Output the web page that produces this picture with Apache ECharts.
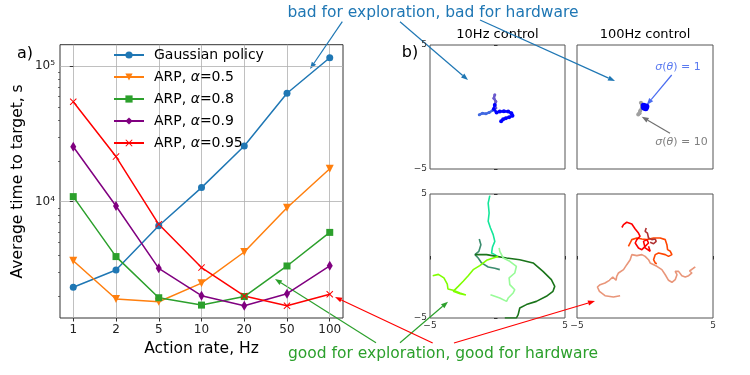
<!DOCTYPE html>
<html>
<head>
<meta charset="utf-8">
<script src="https://cdn.jsdelivr.net/npm/echarts@6/dist/echarts.min.js"></script>
<style>html,body{margin:0;padding:0;background:#fff}#chart{width:750px;height:375px}</style>
</head>
<body>
<div id="chart"></div>
<script>
// panel a) values
const rates = ['1', '2', '5', '10', '20', '50', '100'];
const gaussian = [2340, 3140, 6650, 12700, 25700, 63000, 115000];
const arp05 = [3675, 1920, 1830, 2510, 4260, 9030, 17500];
const arp08 = [10900, 3940, 1960, 1730, 2000, 3360, 5940];
const arp09 = [25400, 9300, 3230, 2030, 1710, 2100, 3370];
const arp095 = [54500, 21500, 6810, 3270, 2020, 1710, 2080];
const yMajor = [1e4, 1e5];
const yMinor = [2000, 3000, 4000, 5000, 6000, 7000, 8000, 9000, 20000, 30000, 40000, 50000, 60000, 70000, 80000, 90000];
const panelTicks = [-5, 5];

// panel b) trajectories (traced by eye)
const blue10 = [[-0.20,0.17],[-0.27,-0.17],[-0.07,-0.44],[0.17,-0.36],[0.47,-0.34],[0.79,-0.36],[1.03,-0.50],[1.11,-0.71],[0.86,-0.82],[0.62,-0.90],[0.42,-0.98],[0.27,-1.14]];
const slate10 = [[-0.20,0.98],[-0.27,0.71],[-0.12,0.44],[-0.22,0.17],[-0.12,-0.09]];
const royal10 = [[-1.35,-0.63],[-1.11,-0.50],[-0.86,-0.55],[-0.62,-0.44],[-0.37,-0.28]];
const grey100 = [[-0.30,0.35],[-0.20,0.10],[-0.35,-0.30],[-0.50,-0.60],[-0.40,-0.50]];
const blue100 = [[-0.10,0.10],[0.10,0.05],[0.05,-0.10],[-0.08,-0.05]];

const spring = [[-0.57,4.87],[-0.69,4.27],[-0.62,3.47],[-0.69,2.80],[-0.52,2.26],[-0.32,1.72],[-0.20,1.18],[-0.37,0.73],[-0.44,0.24],[-0.20,0.11],[-0.02,-0.03]];
const seaGreen = [[-1.35,1.37],[-1.23,0.91],[-1.38,0.38],[-1.67,0.11],[-1.43,-0.16],[-1.18,-0.56],[-0.69,-0.89],[-0.20,-0.99],[0.17,-1.10]];
const darkGreen = [[-1.67,0.11],[-0.81,0.11],[-0.07,-0.03],[0.67,-0.16],[1.65,-0.30],[2.64,-0.56],[3.37,-1.24],[3.99,-1.91],[4.24,-2.45],[4.11,-2.85],[3.62,-3.25],[2.88,-3.66],[2.14,-3.92],[1.65,-4.19],[1.53,-4.73],[1.40,-5.0],[0.54,-5.0]];
const lawnGreen = [[-4.80,-1.59],[-4.38,-1.48],[-3.97,-1.77],[-3.72,-2.26],[-3.67,-2.66],[-3.28,-2.77],[-2.78,-2.98],[-2.34,-3.15],[-2.78,-3.04],[-3.28,-2.85],[-2.91,-2.45],[-2.54,-2.04],[-2.17,-1.59],[-1.80,-1.10],[-1.31,-0.78],[-0.81,-0.35],[-0.32,-0.16],[0.05,-0.03]];
const paleGreen = [[0.12,0.65],[0.17,0.38],[0.42,-0.16],[0.91,-0.43],[1.40,-0.83],[1.28,-1.37],[0.86,-1.77],[0.91,-2.31],[1.28,-2.72],[1.16,-2.98],[0.79,-3.39],[0.67,-3.66],[0.17,-3.39],[-0.52,-3.12]];

const salmon = [[-1.83,-3.20],[-2.32,-3.31],[-2.94,-3.20],[-3.35,-2.85],[-3.50,-2.50],[-3.30,-2.31],[-2.94,-2.18],[-2.62,-1.96],[-2.37,-1.69],[-2.13,-1.96],[-2.08,-1.64],[-1.95,-1.37],[-1.58,-1.10],[-1.34,-0.70],[-1.09,-0.30],[-0.97,0.11],[-0.60,0.03],[-0.23,0.11],[0.01,-0.03],[0.26,-0.30],[0.38,-0.56],[0.87,-0.83],[1.24,-1.10],[1.49,-1.51],[1.73,-1.96],[1.98,-2.12],[2.22,-1.91],[2.35,-1.51],[2.22,-1.24],[2.47,-1.24],[2.71,-1.59],[2.96,-1.69],[3.21,-1.59],[3.45,-1.37],[3.28,-1.21],[3.57,-0.97],[3.70,-0.89]];
const red = [[-1.70,2.30],[-1.58,2.53],[-1.34,2.72],[-0.97,2.58],[-0.72,2.18],[-0.48,1.85],[-0.36,1.59],[-0.60,1.32],[-0.72,1.05],[-0.48,0.65],[-0.23,0.51],[0.01,0.78],[0.26,1.05],[0.14,1.32],[-0.11,1.18],[0.01,0.65],[0.38,0.38],[0.26,0.78]];
const orangeRed = [[-1.22,0.78],[-1.09,1.05],[-0.97,1.32],[-0.60,1.45],[-0.23,1.37],[0.14,1.32],[0.63,1.45],[1.12,1.45],[1.49,1.32],[1.61,0.91],[1.66,0.51],[1.86,0.38],[1.98,0.11],[1.73,-0.03],[1.49,0.11],[1.00,0.24],[0.75,0.11],[0.63,-0.30],[0.75,-0.56],[0.87,-0.62]];
const brown = [[0.09,2.26],[0.01,1.99],[0.18,1.85],[0.26,1.45],[0.50,1.32],[0.75,1.37],[0.82,1.18],[0.63,0.99],[0.38,1.10]];

const FONT = 'DejaVu Sans';
const chart = echarts.init(document.getElementById('chart'), null, { renderer: 'canvas' });

const sup = { '4': '\u2074', '5': '\u2075', '3': '\u00b3' };
function logLabel(v) {
    const e = Math.log10(v);
    if (Math.abs(e - Math.round(e)) > 1e-6) return '';
    return '10' + sup[String(Math.round(e))];
}

function panelAxis(grid, labels) {
    return {
        type: 'value', gridIndex: grid, min: -5, max: 5,
        axisLine: { show: false },
        splitLine: { show: false },
        axisTick: { show: labels, customValues: panelTicks, length: 3.5, lineStyle: { color: '#333' } },
        axisLabel: {
            show: labels, customValues: panelTicks, fontSize: 9, color: '#333', margin: 3, fontFamily: FONT,
            formatter: (v) => (v < 0 ? '\u2212' : '') + Math.abs(v)
        }
    };
}

function mainSeries(name, values, color, symbol, size, rotate) {
    return {
        name: name, type: 'line', xAxisIndex: 0, yAxisIndex: 0,
        data: values.map((v, i) => [i, v]),
        symbol: symbol, symbolSize: size, symbolRotate: rotate || 0, showSymbol: true,
        lineStyle: { color: color, width: 1.5 },
        itemStyle: { color: color },
        z: 3
    };
}

function track(grid, points, color, width, symSize) {
    return {
        type: 'line', xAxisIndex: grid, yAxisIndex: grid + 1,
        data: points, showSymbol: !!symSize, symbol: 'circle', symbolSize: symSize || 0,
        lineStyle: { color: color, width: width }, itemStyle: { color: color },
        silent: true, animation: false
    };
}

function arrow(x1, y1, x2, y2, color) {
    const a = Math.atan2(y2 - y1, x2 - x1), L = 7, W = 2.6;
    const bx = x2 - L * Math.cos(a), by = y2 - L * Math.sin(a);
    const px = -Math.sin(a) * W, py = Math.cos(a) * W;
    return {
        type: 'group', children: [
            { type: 'line', shape: { x1: x1, y1: y1, x2: bx, y2: by }, style: { stroke: color, lineWidth: 1.2 } },
            { type: 'polygon', shape: { points: [[x2, y2], [bx + px, by + py], [bx - px, by - py]] }, style: { fill: color } }
        ]
    };
}

function label(x, y, text, size, color, rich) {
    return {
        type: 'text', x: x, y: y,
        style: { text: text, font: size + 'px ' + FONT, fill: color, align: 'center', verticalAlign: 'middle', rich: rich }
    };
}

const X_MARK = 'path://M0,1L1,0L5,4L9,0L10,1L6,5L10,9L9,10L5,6L1,10L0,9L4,5Z';
const THIN_DIAMOND = 'path://M5,0L8.2,10L5,20L1.8,10Z';
const greek = { i: { fontStyle: 'italic', fontSize: 14, fontFamily: FONT, lineHeight: 14 } };

chart.setOption({
    animation: false,
    textStyle: { fontFamily: FONT },
    grid: [
        { left: 60, top: 44.7, width: 283, height: 273.3, show: true, borderColor: '#333', borderWidth: 1, outerBoundsMode: 'none' },
        { left: 430, top: 45, width: 135, height: 124, show: true, borderColor: '#555', borderWidth: 1, outerBoundsMode: 'none' },
        { left: 577, top: 45, width: 136, height: 124, show: true, borderColor: '#555', borderWidth: 1, outerBoundsMode: 'none' },
        { left: 430, top: 194, width: 135, height: 124, show: true, borderColor: '#555', borderWidth: 1, outerBoundsMode: 'none' },
        { left: 577, top: 194, width: 136, height: 124, show: true, borderColor: '#555', borderWidth: 1, outerBoundsMode: 'none' }
    ],
    legend: {
        data: ['Gaussian policy', 'ARP, α=0.5', 'ARP, α=0.8', 'ARP, α=0.9', 'ARP, α=0.95'],
        orient: 'vertical', left: 109, top: 46, itemWidth: 30, itemHeight: 9, itemGap: 8,
        padding: [2, 4],
        textStyle: { fontSize: 14, color: '#000', lineHeight: 14, padding: [0, 0, 0, 5], fontFamily: FONT, rich: greek },
        formatter: (n) => n.replace('α', '{i|α}')
    },
    xAxis: [
        {
            type: 'value', gridIndex: 0, min: -0.31, max: 6.31,
            name: 'Action rate, Hz', nameLocation: 'middle', nameGap: 21,
            nameTextStyle: { fontSize: 15.5, color: '#000', fontFamily: FONT },
            axisLine: { show: false },
            axisTick: { customValues: [0, 1, 2, 3, 4, 5, 6], length: 3.5, lineStyle: { color: '#333' } },
            axisLabel: { customValues: [0, 1, 2, 3, 4, 5, 6], fontSize: 12, color: '#222', margin: 6, formatter: (v) => rates[v] || '' },
            splitLine: { show: true, lineStyle: { color: '#b0b0b0', width: 0.8 } }
        },
        panelAxis(1, false),
        panelAxis(2, false),
        panelAxis(3, true),
        panelAxis(4, true)
    ],
    yAxis: [
        {
            type: 'log', gridIndex: 0, logBase: 10, min: 1390, max: 143500,
            name: 'Average time to target, s', nameLocation: 'middle', nameGap: 34,
            nameTextStyle: { fontSize: 15.5, color: '#000', fontFamily: FONT },
            axisLine: { show: false },
            axisTick: { customValues: yMajor, length: 3.5, lineStyle: { color: '#333' } },
            axisLabel: { customValues: yMajor, fontSize: 12, color: '#222', margin: 5, formatter: logLabel },
            splitLine: { show: true, lineStyle: { color: '#b0b0b0', width: 0.8 } }
        },
        {
            type: 'log', gridIndex: 0, logBase: 10, min: 1390, max: 143500, position: 'left',
            axisLine: { show: false }, axisLabel: { show: false }, splitLine: { show: false },
            axisTick: { customValues: yMinor, length: 2, lineStyle: { color: '#333', width: 0.7 } }
        },
        panelAxis(1, true),
        panelAxis(2, false),
        panelAxis(3, true),
        panelAxis(4, false)
    ],
    series: [
        mainSeries('Gaussian policy', gaussian, '#1f77b4', 'circle', 7),
        mainSeries('ARP, α=0.5', arp05, '#ff7f0e', 'triangle', 8, 180),
        mainSeries('ARP, α=0.8', arp08, '#2ca02c', 'rect', 7),
        mainSeries('ARP, α=0.9', arp09, '#800080', THIN_DIAMOND, [6, 10]),
        mainSeries('ARP, α=0.95', arp095, '#ff0000', X_MARK, 7),
        // xAxisIndex k pairs with yAxisIndex k+1
        track(1, royal10, '#4169e1', 2.5, 3),
        track(1, slate10, '#6a5acd', 2.5, 3),
        track(1, blue10, '#0000ff', 2.5, 4),
        track(2, grey100, '#a0a0a0', 3, 4),
        track(2, blue100, '#0000ff', 4, 6),
        track(3, spring, '#14e69a', 1.6),
        track(3, seaGreen, '#3b8c6e', 1.6),
        track(3, darkGreen, '#1a741a', 1.6),
        track(3, lawnGreen, '#7fff00', 1.6),
        track(3, paleGreen, '#98fb98', 1.6),
        track(4, salmon, '#e9967a', 1.6),
        track(4, orangeRed, '#ff4500', 1.6),
        track(4, red, '#ff0000', 1.6),
        track(4, brown, '#b03030', 1.6)
    ],
    graphic: [
        label(25, 54, 'a)', 16, '#000'),
        label(410, 53, 'b)', 16, '#000'),
        label(497.5, 35, '10Hz control', 13, '#000'),
        label(645, 35, '100Hz control', 13, '#000'),
        label(433, 13, 'bad for exploration, bad for hardware', 15.5, '#1f77b4'),
        label(443, 354, 'good for exploration, good for hardware', 15.5, '#2ca02c'),
        label(678, 67, '{i|σ}({i|θ}) = 1', 11, '#5a7af0', { i: { fontStyle: 'italic', fontSize: 11, fontFamily: FONT, fill: '#5a7af0' } }),
        label(681.5, 142, '{i|σ}({i|θ}) = 10', 11, '#808080', { i: { fontStyle: 'italic', fontSize: 11, fontFamily: FONT, fill: '#808080' } }),
        arrow(342.3, 21.7, 310, 69, '#1f77b4'),
        arrow(400, 21.7, 468, 80, '#1f77b4'),
        arrow(480, 20, 615, 81, '#1f77b4'),
        arrow(671.7, 75, 646.7, 105, '#4a6cf0'),
        arrow(670, 133.3, 641.7, 116.7, '#707070'),
        arrow(376, 342.7, 275, 279, '#2ca02c'),
        arrow(400, 342.7, 448, 301.7, '#2ca02c'),
        arrow(432.7, 343, 335, 297, '#ff0000'),
        arrow(454, 343, 595, 301, '#ff0000')
    ]
});
</script>
</body>
</html>
